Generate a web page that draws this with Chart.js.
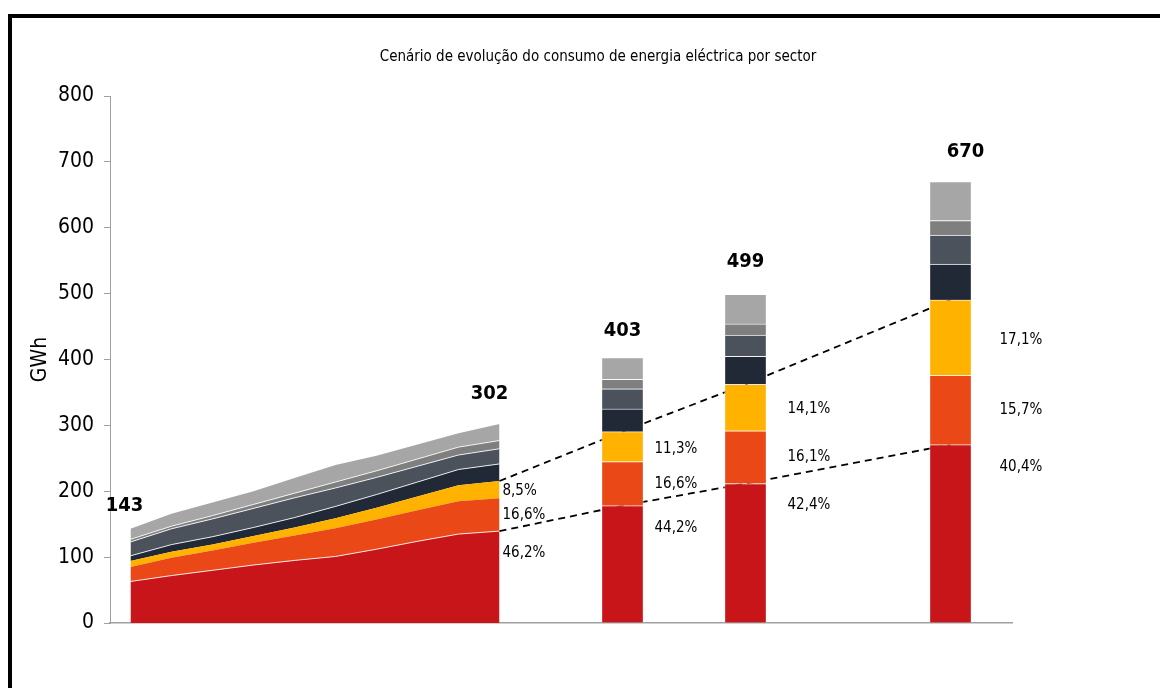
<!DOCTYPE html>
<html>
<head>
<meta charset="utf-8">
<script src="https://cdn.jsdelivr.net/npm/chart.js@4"></script>
<style>
  html, body { margin: 0; padding: 0; background: #fff; }
  #wrap { position: relative; width: 1160px; height: 688px; overflow: hidden; }
  #frame { position: absolute; left: 8px; top: 14px; width: 1200px; height: 720px;
           border-left: 4px solid #000; border-top: 4px solid #000; }
  canvas { position: absolute; left: 0; top: 0; }
</style>
</head>
<body>
<div id="wrap">
  <div id="frame"></div>
  <canvas id="consumoChart" width="1160" height="688"></canvas>
</div>
<script>
// anos no eixo (rotulos ocultos no grafico)
const years = [];
for (let a = 2010; a <= 2031; a++) years.push(String(a));

const chartTitle = 'Cenário de evolução do consumo de energia eléctrica por sector';

// historico (area empilhada), 2010-2019
const histYears  = ['2010','2011','2012','2013','2014','2015','2016','2017','2018','2019'];
const histRed    = [63, 72, 80, 88, 95, 101, 112, 124, 135, 139.5];
const histOrange = [22, 27, 30, 34, 38, 43, 45, 47, 50, 50];
const histYellow = [9, 9, 9, 10, 12, 15, 18, 21, 24, 26];
const histNavy   = [8, 11, 12, 13, 15, 18, 20, 22, 24, 26];
const histSlate  = [21, 24, 27, 29, 30, 28, 26, 24, 22, 23];
const histGray   = [4, 4, 5, 6, 7, 9, 10, 11, 12, 12.5];
const histLight  = [16, 19, 20, 20, 23, 26, 23, 22, 21, 25];

// cenarios (barras)
const projYears  = ['2022', '2025', '2030'];
const projRed    = [178.1, 211.6, 270.7];
const projOrange = [66.9, 80.3, 105.2];
const projYellow = [45.5, 70.4, 114.6];
const projNavy   = [34.5, 42.7, 54.5];
const projSlate  = [30.5, 32, 44];
const projGray   = [14.5, 17, 22];
const projLight  = [33, 45, 59];

// percentagens (ultimo ano historico + cenarios)
const shareYears  = ['2019', '2022', '2025', '2030'];
const shareRed    = ['46,2%', '44,2%', '42,4%', '40,4%'];
const shareOrange = ['16,6%', '16,6%', '16,1%', '15,7%'];
const shareYellow = ['8,5%', '11,3%', '14,1%', '17,1%'];

const FONT = "'Liberation Sans Narrow', 'DejaVu Sans Condensed', sans-serif";
const colors = ['#C8151A', '#EA4816', '#FFB300', '#212836', '#4B525C', '#7F7F7F', '#A6A6A6'];
const sepLine = [true, false, false, true, true, true, false];

const histSets = [histRed, histOrange, histYellow, histNavy, histSlate, histGray, histLight];
const projSets = [projRed, projOrange, projYellow, projNavy, projSlate, projGray, projLight];

function spread(keys, vals) {
    const out = years.map(() => null);
    keys.forEach((k, i) => { out[years.indexOf(k)] = vals[i]; });
    return out;
}

const datasets = [];
histSets.forEach((vals, i) => {
    datasets.push({
        type: 'line',
        data: spread(histYears, vals),
        stack: 'hist',
        backgroundColor: colors[i],
        borderColor: sepLine[i] ? 'rgba(255,255,255,0.85)' : 'rgba(0,0,0,0)',
        borderWidth: 1,
        fill: i === 0 ? 'origin' : '-1',
        tension: 0,
        pointRadius: 0,
        order: 3
    });
});
projSets.forEach((vals, i) => {
    datasets.push({
        type: 'bar',
        data: spread(projYears, vals),
        stack: 'proj',
        backgroundColor: colors[i],
        borderColor: 'rgba(255,255,255,0.5)',
        borderWidth: 1,
        barThickness: 42,
        order: 1
    });
});

// linhas tracejadas: topo do vermelho e topo do amarelo
const lastH = histYears.length - 1;
const redTops = [histRed[lastH]].concat(projRed);
const yellowTops = [histRed[lastH] + histOrange[lastH] + histYellow[lastH]]
    .concat(projRed.map((v, i) => v + projOrange[i] + projYellow[i]));
[redTops, yellowTops].forEach((vals, i) => {
    datasets.push({
        type: 'line',
        data: spread(shareYears, vals),
        stack: 'dash' + i,
        borderColor: '#000',
        borderWidth: 1.8,
        borderDash: [7, 5],
        fill: false,
        spanGaps: true,
        pointRadius: 0,
        order: 2
    });
});

const totalYears = ['2010'].concat(shareYears);
const totals = totalYears.map(k => {
    const hi = histYears.indexOf(k);
    if (hi >= 0) return Math.round(histSets.reduce((s, a) => s + a[hi], 0));
    const pi = projYears.indexOf(k);
    return Math.round(projSets.reduce((s, a) => s + a[pi], 0));
});

const totalDx = [-6, -10, 0, 0, 15];
const totalDy = [23, 30, 27, 32, 30];
const shareDx = [3, 32, 42, 49];

const valueLabels = {
    id: 'valueLabels',
    afterDatasetsDraw(chart) {
        const { ctx, scales: { x, y } } = chart;
        ctx.save();
        ctx.fillStyle = '#000';
        ctx.textBaseline = 'middle';

        // titulo
        ctx.font = '15px ' + FONT;
        ctx.textAlign = 'center';
        ctx.fillText(chartTitle, 598, 57);

        ctx.font = 'bold 20px ' + FONT;
        totalYears.forEach((k, i) => {
            ctx.fillText(String(totals[i]), x.getPixelForValue(years.indexOf(k)) + totalDx[i],
                y.getPixelForValue(totals[i]) - totalDy[i]);
        });

        ctx.font = '15px ' + FONT;
        ctx.textAlign = 'left';
        shareYears.forEach((k, i) => {
            const px = x.getPixelForValue(years.indexOf(k)) + shareDx[i];
            const red = i === 0 ? histRed[lastH] : projRed[i - 1];
            const org = i === 0 ? histOrange[lastH] : projOrange[i - 1];
            const yel = i === 0 ? histYellow[lastH] : projYellow[i - 1];
            ctx.fillText(shareYellow[i], px, y.getPixelForValue(red + org + yel / 2) + 2);
            ctx.fillText(shareOrange[i], px, y.getPixelForValue(red + org / 2));
            ctx.fillText(shareRed[i], px, y.getPixelForValue(red) + 22);
        });
        ctx.restore();
    }
};

new Chart(document.getElementById('consumoChart').getContext('2d'), {
    type: 'bar',
    data: { labels: years, datasets: datasets },
    plugins: [valueLabels],
    options: {
        responsive: false,
        animation: false,
        layout: { padding: { left: 0, right: 148, top: 96, bottom: 57 } },
        plugins: {
            legend: { display: false },
            tooltip: { enabled: false },
            title: { display: false }
        },
        scales: {
            x: {
                stacked: true,
                offset: true,
                grid: { display: false },
                ticks: { display: false },
                border: { display: true, color: '#A0A0A0', width: 1.5 }
            },
            y: {
                stacked: true,
                min: 0,
                max: 800,
                ticks: { stepSize: 100, color: '#000', padding: 10, font: { family: FONT, size: 21 } },
                grid: { drawOnChartArea: false, tickLength: 6, color: '#A0A0A0' },
                border: { display: true, color: '#A0A0A0' },
                title: {
                    display: true,
                    text: 'GWh',
                    color: '#000',
                    font: { family: FONT, size: 21 },
                    padding: { top: 28, bottom: 0 }
                },
                afterFit: s => { s.width = 110; }
            }
        }
    }
});
</script>
</body>
</html>
